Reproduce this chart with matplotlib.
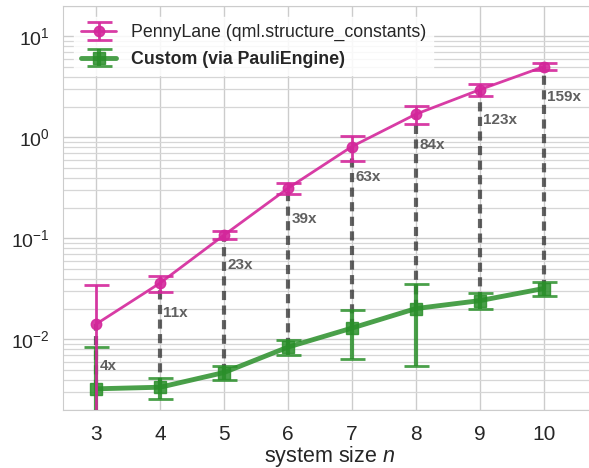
import numpy as np
import matplotlib
matplotlib.use("Agg")
import matplotlib.pyplot as plt
import seaborn as sns

sns.set_style("whitegrid")
plt.rcParams['font.family'] = ['Liberation Sans', 'DejaVu Sans']
plt.rcParams['mathtext.fontset'] = 'custom'
plt.rcParams['mathtext.rm'] = 'Liberation Sans'
plt.rcParams['mathtext.it'] = 'Liberation Sans:italic'

# data
n = [3, 4, 5, 6, 7, 8, 9, 10]
pl_mean = [0.0142, 0.0362, 0.108, 0.314, 0.813, 1.70, 2.97, 5.02]
pl_err = [0.020, 0.0064, 0.010, 0.040, 0.23, 0.33, 0.42, 0.38]
cu_mean = [0.00324, 0.00336, 0.00470, 0.00839, 0.01294, 0.0202, 0.0242, 0.0319]
cu_err = [0.0052, 0.0008, 0.00075, 0.0014, 0.0065, 0.0148, 0.0044, 0.0047]
speedups = ["4x", "11x", "23x", "39x", "63x", "84x", "123x", "159x"]

pink = "#d4279b"
green = "#2a8f2a"

fig = plt.figure(figsize=(5.89, 4.68), dpi=100)
ax = fig.add_axes([0.107, 0.124, 0.905, 0.863])

# dashed connectors + speedup labels
for i in range(len(n)):
    ax.plot([n[i], n[i]], [cu_mean[i], pl_mean[i]], ls="--", color="#222222",
            lw=3, alpha=0.7, dashes=(2.2, 1.3), zorder=2)
    ty = pl_mean[i] * (0.38 if i == 0 else 0.5)
    ax.text(n[i] + 0.05, ty, speedups[i], fontsize=11, fontweight="bold",
            color="#606060", va="center", ha="left", zorder=5)

ax.errorbar(n, pl_mean, yerr=pl_err, color=pink, marker="o", ms=7.5, lw=2,
            capsize=9, capthick=2, elinewidth=2, alpha=0.9, zorder=4,
            label="PennyLane (qml.structure_constants)")
ax.errorbar(n, cu_mean, yerr=cu_err, color=green, marker="s", ms=8, lw=3.5,
            capsize=9, capthick=2, elinewidth=3, alpha=0.85, zorder=3,
            label="Custom (via PauliEngine)")

ax.set_yscale("log")
ax.set_ylim(2.0e-3, 20)
ax.set_xlim(2.48, 10.82)
ax.set_xticks(n)
ax.tick_params(axis="x", labelsize=15, pad=7)
ax.tick_params(axis="y", labelsize=14, pad=6)
ax.set_xlabel("system size $n$", fontsize=15.5, labelpad=0)

ax.grid(True, which="major", color="#cccccc", lw=1)
ax.grid(True, which="minor", axis="y", color="#d6d6d6", lw=0.9)
for s in ax.spines.values():
    s.set_color("#cccccc")

leg = ax.legend(loc="upper left", fontsize=12.8, frameon=True, framealpha=0.85,
                edgecolor="white", borderaxespad=0.6, labelspacing=0.55)
leg.get_texts()[1].set_fontweight("bold")

fig.savefig("out.png", dpi=100)
